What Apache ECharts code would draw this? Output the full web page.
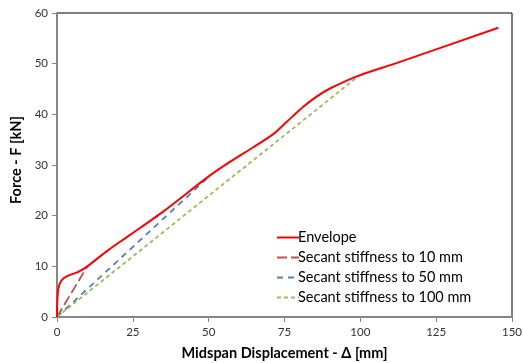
<!DOCTYPE html>
<html><head><meta charset="utf-8">
<script src="https://cdn.jsdelivr.net/npm/echarts@6/dist/echarts.min.js"></script>
<style>html,body{margin:0;padding:0;background:#fff}#c{width:523px;height:363px}</style>
</head><body><div id="c"></div>
<script>
const envelopeX = [0, 0.1, 0.4, 1, 2.1, 4.3, 7, 10, 16.9, 24.1, 35, 49.9, 57, 64.7, 71.3, 75.7, 81.2, 85.6, 90, 99.3, 111.9, 145.5];
const envelopeF = [0, 3.1, 5.4, 6.7, 7.6, 8.3, 8.9, 10.0, 13.2, 16.2, 20.8, 27.7, 30.6, 33.5, 36.1, 38.5, 41.5, 43.5, 45.1, 47.6, 50.1, 57.1];
const secant10X = [0, 10], secant10F = [0, 10.0];
const secant50X = [0, 49.9], secant50F = [0, 27.6];
const secant100X = [0, 99.5], secant100F = [0, 47.6];
const xTicks = [0, 25, 50, 75, 100, 125, 150];
const yTicks = [0, 10, 20, 30, 40, 50, 60];
const names = ['Envelope', 'Secant stiffness to 10 mm', 'Secant stiffness to 50 mm', 'Secant stiffness to 100 mm'];

const zip = (a, b) => a.map((v, i) => [v, b[i]]);
const font = 'Lato, "Open Sans", sans-serif';
const chart = echarts.init(document.getElementById('c'), null, {renderer: 'canvas'});
chart.setOption({
  animation: false,
  grid: {left: 57, right: 11, top: 13, bottom: 46, show: true, borderColor: '#000', borderWidth: 1,
         containLabel: false, outerBoundsMode: 'none'},
  xAxis: {
    type: 'value', min: xTicks[0], max: xTicks[xTicks.length - 1], interval: 25,
    name: 'Midspan Displacement - Δ [mm]', nameLocation: 'middle', nameGap: 29,
    nameTextStyle: {fontFamily: font, fontWeight: 'bold', fontSize: 14.5, color: '#000'},
    axisLine: {lineStyle: {color: '#868686', width: 2}},
    axisTick: {show: true, length: 5, lineStyle: {color: '#868686'}},
    axisLabel: {fontFamily: font, fontSize: 11.5, color: '#333', margin: 9},
    splitLine: {show: false}
  },
  yAxis: {
    type: 'value', min: yTicks[0], max: yTicks[yTicks.length - 1], interval: 10,
    name: 'Force - F [kN]', nameLocation: 'middle', nameGap: 29,
    nameTextStyle: {fontFamily: font, fontWeight: 'bold', fontSize: 14.5, color: '#000', padding: [0, 0, 0, 10]},
    axisLine: {show: true, lineStyle: {color: '#868686', width: 2}},
    axisTick: {show: true, length: 5, lineStyle: {color: '#868686'}},
    axisLabel: {fontFamily: font, fontSize: 11.5, color: '#333', margin: 9},
    splitLine: {show: false}
  },
  legend: {
    orient: 'vertical', left: 271, top: 225, itemGap: 5, itemWidth: 22, itemHeight: 14,
    data: names,
    itemStyle: {opacity: 0},
    textStyle: {fontFamily: font, fontSize: 14.5, lineHeight: 14, color: '#000', padding: [0, 0, 0, -6]}
  },
  series: [
    {name: names[0], type: 'line', data: zip(envelopeX, envelopeF), smooth: 0.25, symbol: 'none',
     lineStyle: {color: '#FF0000', width: 2}, itemStyle: {color: '#FF0000'}, z: 5},
    {name: names[1], type: 'line', data: zip(secant10X, secant10F), symbol: 'none',
     lineStyle: {color: '#C0504D', width: 1.8, type: [10, 4]}, itemStyle: {color: '#C0504D'}},
    {name: names[2], type: 'line', data: zip(secant50X, secant50F), symbol: 'none',
     lineStyle: {color: '#4F81BD', width: 1.8, type: [6, 5]}, itemStyle: {color: '#4F81BD'}},
    {name: names[3], type: 'line', data: zip(secant100X, secant100F), symbol: 'none',
     lineStyle: {color: '#9BBB59', width: 1.8, type: [4, 3]}, itemStyle: {color: '#9BBB59'}}
  ]
});
</script></body></html>
